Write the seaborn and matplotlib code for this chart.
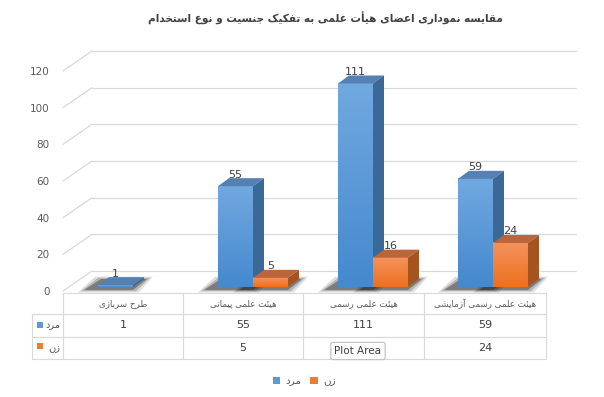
import numpy as np
import pandas as pd
import seaborn as sns
import matplotlib.pyplot as plt
import matplotlib.transforms as mtransforms
from matplotlib.patches import Polygon, Rectangle
from matplotlib.colors import LinearSegmentedColormap
from matplotlib.table import Table

# ---- data ----
categories = ["طرح سربازی", "هیئت علمی پیمانی", "هیئت علمی رسمی", "هیئت علمی رسمی آزمایشی"]
series = ["مرد", "زن"]
men = [1, 55, 111, 59]
women = [np.nan, 5, 16, 24]
y_ticks = [0, 20, 40, 60, 80, 100, 120]
title = "مقایسه نموداری اعضای هیأت علمی به تفکیک جنسیت و نوع استخدام"

colors = ["#5B9BD5", "#ED7D31"]
grad_colors = [("#4589CE", "#71A8E0"), ("#EC711F", "#F5925C")]
top_colors = ["#5580B3", "#BA663A"]
side_colors = ["#3A6897", "#A5531F"]


# ---- minimal persian shaping (matplotlib has no RTL / joining) ----
FORMS = {
    "ا": (0xFE8D, 0xFE8E), "آ": (0xFE81, 0xFE82), "أ": (0xFE83, 0xFE84),
    "د": (0xFEA9, 0xFEAA), "ر": (0xFEAD, 0xFEAE), "ز": (0xFEAF, 0xFEB0),
    "و": (0xFEED, 0xFEEE),
    "ب": (0xFE8F, 0xFE90, 0xFE91, 0xFE92), "ت": (0xFE95, 0xFE96, 0xFE97, 0xFE98),
    "ج": (0xFE9D, 0xFE9E, 0xFE9F, 0xFEA0), "خ": (0xFEA5, 0xFEA6, 0xFEA7, 0xFEA8),
    "س": (0xFEB1, 0xFEB2, 0xFEB3, 0xFEB4), "ش": (0xFEB5, 0xFEB6, 0xFEB7, 0xFEB8),
    "ض": (0xFEBD, 0xFEBE, 0xFEBF, 0xFEC0), "ط": (0xFEC1, 0xFEC2, 0xFEC3, 0xFEC4),
    "ع": (0xFEC9, 0xFECA, 0xFECB, 0xFECC), "ف": (0xFED1, 0xFED2, 0xFED3, 0xFED4),
    "ق": (0xFED5, 0xFED6, 0xFED7, 0xFED8), "ل": (0xFEDD, 0xFEDE, 0xFEDF, 0xFEE0),
    "م": (0xFEE1, 0xFEE2, 0xFEE3, 0xFEE4), "ن": (0xFEE5, 0xFEE6, 0xFEE7, 0xFEE8),
    "ه": (0xFEE9, 0xFEEA, 0xFEEB, 0xFEEC), "ئ": (0xFE89, 0xFE8A, 0xFE8B, 0xFE8C),
    "پ": (0xFB56, 0xFB57, 0xFB58, 0xFB59), "ک": (0xFB8E, 0xFB8F, 0xFB90, 0xFB91),
    "ی": (0xFBFC, 0xFBFD, 0xFBFE, 0xFBFF),
}


def fa(text):
    out = []
    for i, c in enumerate(text):
        f = FORMS.get(c)
        if f is None:
            out.append(c)
            continue
        prev = text[i - 1] if i > 0 else ""
        nxt = text[i + 1] if i + 1 < len(text) else ""
        join_prev = prev in FORMS and len(FORMS[prev]) == 4
        join_next = nxt in FORMS and len(f) == 4
        if len(f) == 2:
            out.append(chr(f[1] if join_prev else f[0]))
        elif join_prev and join_next:
            out.append(chr(f[3]))
        elif join_prev:
            out.append(chr(f[1]))
        elif join_next:
            out.append(chr(f[2]))
        else:
            out.append(chr(f[0]))
    return "".join(reversed(out))


sns.set_style("white")
plt.rcParams["font.family"] = ["DejaVu Sans"]

W, H, DPI = 604, 397, 100
fig = plt.figure(figsize=(W / DPI, H / DPI), dpi=DPI)
# axes = front plane of the 3d box (0 at y=291px, 120 at y=71px)
ax = fig.add_axes([63 / W, (H - 291) / H, 480 / W, 220 / H])

df = pd.DataFrame({
    "category": categories * 2,
    "sex": [series[0]] * len(categories) + [series[1]] * len(categories),
    "count": men + women,
})

sns.barplot(data=df, x="category", y="count", hue="sex", order=categories,
            hue_order=series, palette=colors, saturation=1, width=0.583,
            errorbar=None, linewidth=0, ax=ax)

ax.set_xlim(-0.5, 3.5)
ax.set_ylim(0, 120)
px_x = 480 / 4.0          # pixels per x unit
px_y = 220 / 120.0        # pixels per y unit
D_X, D_Y = 29 / px_x, 20 / px_y    # front -> back wall
B_X, B_Y = 10 / px_x, 4 / px_y     # front -> bar plane
T_X, T_Y = 11 / px_x, 8 / px_y     # bar depth

bar_tr = ax.transData + mtransforms.ScaledTranslation(10 / DPI, 4 / DPI, fig.dpi_scale_trans)

# walls / gridlines
for v in y_ticks:
    ax.plot([-0.5, -0.5 + D_X], [v, v + D_Y], color="#D9D9D9", lw=0.9, clip_on=False, zorder=1)
    ax.plot([-0.5 + D_X, 3.5 + D_X + 4 / px_x], [v + D_Y, v + D_Y], color="#D9D9D9", lw=0.9,
            clip_on=False, zorder=1)

# 3d faces, gradients, shadows, labels
n_cat = len(categories)
for k, patch in enumerate(ax.patches[: 2 * n_cat]):
    s = k // n_cat
    h = patch.get_height()
    if not np.isfinite(h) or h <= 0:
        patch.set_visible(False)
        continue
    x0 = patch.get_x()
    x1 = x0 + patch.get_width()
    zb = 3 + 2 * s
    patch.set_transform(bar_tr)
    patch.set_zorder(zb)
    patch.set_clip_on(False)

    # soft floor shadow, thrown to the front-left
    for grow, a in [(6, 0.14), (3, 0.22), (0, 0.38)]:
        gx, gy = grow / px_x, grow * 0.4 / px_y
        shadow = Polygon([(x0 + B_X - gx - 14 / px_x, B_Y - gy - 3 / px_y),
                          (x1 + B_X + gx, B_Y - gy - 3 / px_y),
                          (x1 + B_X + T_X + gx + 3 / px_x, B_Y + T_Y + gy),
                          (x0 + B_X + T_X - gx - 8 / px_x, B_Y + T_Y + gy)],
                         closed=True, fc="#202020", ec="none", alpha=a,
                         zorder=2, clip_on=False)
        ax.add_patch(shadow)

    grad = np.linspace(0, 1, 64).reshape(-1, 1)
    cmap = LinearSegmentedColormap.from_list("g%d" % s, grad_colors[s])
    im = ax.imshow(grad, extent=(x0, x1, 0, h), origin="lower", cmap=cmap,
                   aspect="auto", transform=bar_tr, zorder=zb + 0.1, clip_on=False)
    im.set_clip_path(patch)

    top = Polygon([(x0 + B_X, h + B_Y), (x1 + B_X, h + B_Y),
                   (x1 + B_X + T_X, h + B_Y + T_Y), (x0 + B_X + T_X, h + B_Y + T_Y)],
                  closed=True, fc=top_colors[s], ec="none", zorder=zb + 0.2, clip_on=False)
    side = Polygon([(x1 + B_X, B_Y), (x1 + B_X, h + B_Y),
                    (x1 + B_X + T_X, h + B_Y + T_Y), (x1 + B_X + T_X, B_Y + T_Y)],
                   closed=True, fc=side_colors[s], ec="none", zorder=zb + 0.2, clip_on=False)
    ax.add_patch(top)
    ax.add_patch(side)

    ax.text((x0 + x1) / 2 + B_X, h + B_Y + T_Y - 1.5 / px_y, "%d" % h, ha="center",
            va="bottom", fontsize=8, color="#404040", zorder=10, clip_on=False)

ax.set_xlim(-0.5, 3.5)
ax.set_ylim(0, 120)

for sp in ax.spines.values():
    sp.set_visible(False)
ax.set_xticks([])
ax.set_xlabel("")
ax.set_ylabel("")
ax.set_yticks(y_ticks)
ax.tick_params(axis="y", length=0, pad=9.5, labelsize=7.5, labelcolor="#595959")


# data table under the plot (label column + one column per category)
def fmt(v):
    return "" if not np.isfinite(v) else "%d" % v


col_w = [31, 120, 120, 121, 122]
row_h = [21, 23, 22]
rows = [[""] + [fa(c) for c in categories],
        [fa(series[0])] + [fmt(v) for v in men],
        [fa(series[1])] + [fmt(v) for v in women]]
tbl = Table(ax, bbox=[(32 - 63) / 480, (291 - 359) / 220, 514 / 480, 66 / 220])
for r, row in enumerate(rows):
    for c, txt in enumerate(row):
        cell = tbl.add_cell(r, c, width=col_w[c] / 514, height=row_h[r] / 66, text=txt,
                            loc="right" if c == 0 else "center",
                            edgecolor="#D9D9D9", facecolor="none")
        cell.set_linewidth(0.8)
        cell.PAD = 0.08
        if r == 0 and c == 0:
            cell.visible_edges = "BR"
        if r == 0:
            cell.get_text().set_fontsize(6.3)
            cell.get_text().set_color("#595959")
        elif c == 0:
            cell.get_text().set_fontsize(7)
            cell.get_text().set_color("#595959")
        else:
            cell.get_text().set_fontsize(8)
            cell.get_text().set_color("#404040")
tbl.auto_set_font_size(False)
tbl.set_clip_on(False)
ax.add_table(tbl)

for s, yy in enumerate([322, 343]):
    fig.add_artist(Rectangle((37 / W, 1 - (yy + 6) / H), 6 / W, 6 / H,
                             transform=fig.transFigure, fc=colors[s], ec="none"))

# legend
sns.move_legend(ax, "center", bbox_to_anchor=((304 - 63) / 480, (291 - 381) / 220),
                ncol=2, frameon=False, title=None, fontsize=7.5,
                handlelength=0.7, handleheight=0.7, handletextpad=0.5,
                columnspacing=0.9)
for t in ax.get_legend().get_texts():
    t.set_text(fa(t.get_text()))
    t.set_color("#595959")

# title
fig.text(325 / W, 1 - 18 / H, fa(title), ha="center", va="center",
         fontsize=7.6, fontweight="bold", color="#404040")

# excel hover tooltip visible in the screenshot
fig.text(358 / W, 1 - 351 / H, "Plot Area", ha="center", va="center",
         fontsize=7.5, color="#404040", zorder=20,
         bbox=dict(boxstyle="round,pad=0.35,rounding_size=0.2", fc="white",
                   ec="#BFBFBF", lw=0.8))

fig.savefig("out.png", dpi=DPI)
